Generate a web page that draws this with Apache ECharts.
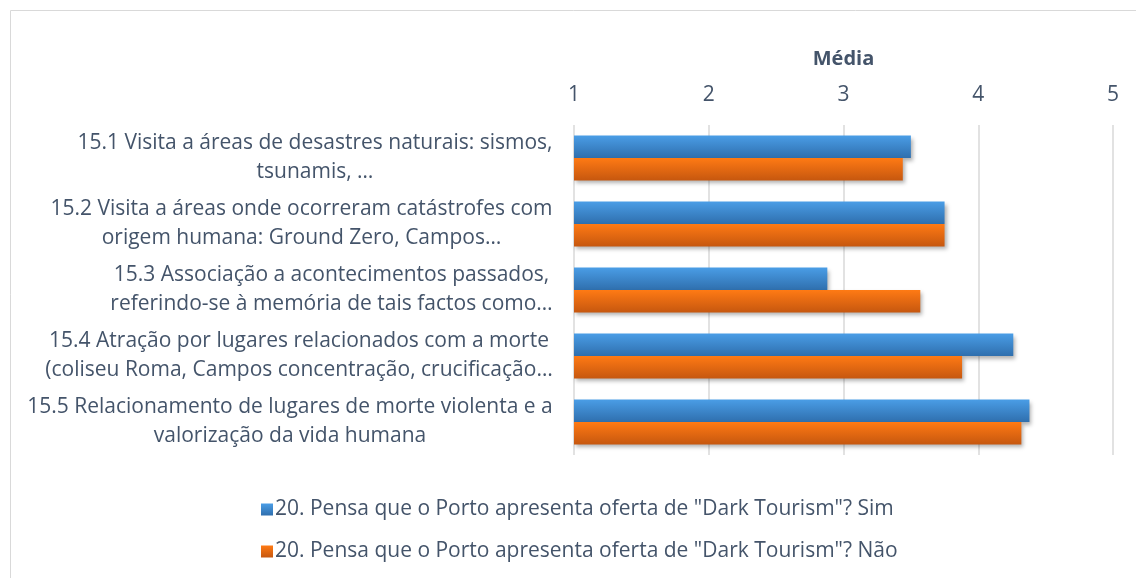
<!DOCTYPE html>
<html>
<head>
<meta charset="utf-8">
<script src="https://cdn.jsdelivr.net/npm/echarts@6/dist/echarts.min.js"></script>
<style>
  html, body { margin: 0; padding: 0; background: #fff; }
  #chart { width: 1136px; height: 578px; }
</style>
</head>
<body>
<div id="chart"></div>
<script>
const categories = [
  "15.1 Visita a áreas de desastres naturais: sismos,\ntsunamis, …",
  "15.2 Visita a áreas onde ocorreram catástrofes com\norigem humana: Ground Zero, Campos…",
  "15.3 Associação a acontecimentos passados,\nreferindo-se à memória de tais factos como…",
  "15.4 Atração por lugares relacionados com a morte\n(coliseu Roma, Campos concentração, crucificação…",
  "15.5 Relacionamento de lugares de morte violenta e a\nvalorização da vida humana"
];
const simValues = [3.50, 3.75, 2.88, 4.26, 4.38];
const naoValues = [3.44, 3.75, 3.57, 3.88, 4.32];
const seriesNames = [
  '20. Pensa que o Porto apresenta oferta de "Dark Tourism"? Sim',
  '20. Pensa que o Porto apresenta oferta de "Dark Tourism"? Não'
];

const textColor = "#44546a";
const font = "Open Sans";
const labelSize = 21;

function grad(top, bottom) {
  return new echarts.graphic.LinearGradient(0, 0, 0, 1, [
    { offset: 0, color: top },
    { offset: 1, color: bottom }
  ]);
}

// each category label: lines centred inside a box as wide as the longest line
const ctx = document.createElement("canvas").getContext("2d");
ctx.font = labelSize + "px '" + font + "'";
const rich = {};
categories.forEach((c, i) => {
  const w = Math.max(...c.split("\n").map(l => ctx.measureText(l).width));
  rich["c" + i] = {
    width: Math.ceil(w) + 2,
    align: "center",
    color: textColor,
    fontSize: labelSize,
    fontFamily: font,
    lineHeight: 29
  };
});

const chart = echarts.init(document.getElementById("chart"));

chart.setOption({
  animation: false,
  textStyle: { fontFamily: font },
  graphic: [{
    type: "rect",
    shape: { x: 10.5, y: 10.5, width: 1200, height: 700 },
    style: { fill: null, stroke: "#d9d9d9", lineWidth: 1 },
    silent: true
  }],
  grid: { left: 574, right: 23, top: 125, height: 330 },
  legend: {
    orient: "vertical",
    left: 256,
    top: 494,
    itemGap: 21,
    itemWidth: 12,
    itemHeight: 12,
    icon: "rect",
    textStyle: { color: textColor, fontSize: labelSize, fontFamily: font, padding: [0, 0, 0, -3] },
    data: seriesNames
  },
  xAxis: {
    type: "value",
    position: "top",
    min: 1,
    max: 5,
    interval: 1,
    name: "Média",
    nameLocation: "middle",
    nameGap: 56,
    nameTextStyle: { color: textColor, fontSize: 20, fontWeight: "bold", fontFamily: font },
    axisLine: { show: false },
    axisTick: { show: false },
    axisLabel: { color: textColor, fontSize: 21, margin: 19, fontFamily: font },
    splitLine: { lineStyle: { color: "#d9d9d9", width: 1.5 } }
  },
  yAxis: {
    type: "category",
    inverse: true,
    data: categories,
    axisLine: { show: false },
    axisTick: { show: false },
    axisLabel: {
      align: "right",
      margin: 20,
      formatter: (value, index) =>
        value.split("\n").map(l => "{c" + index + "|" + l + "}").join("\n"),
      rich: rich
    }
  },
  series: [
    {
      name: seriesNames[0],
      type: "bar",
      data: simValues,
      barCategoryGap: "32%",
      barGap: "0%",
      itemStyle: {
        color: grad("#4a9de6", "#2f6fae"),
        shadowBlur: 4,
        shadowOffsetX: 2,
        shadowOffsetY: 3,
        shadowColor: "rgba(0,0,0,0.3)"
      }
    },
    {
      name: seriesNames[1],
      type: "bar",
      data: naoValues,
      barCategoryGap: "32%",
      barGap: "0%",
      itemStyle: {
        color: grad("#ff7a14", "#c6570f"),
        shadowBlur: 4,
        shadowOffsetX: 2,
        shadowOffsetY: 3,
        shadowColor: "rgba(0,0,0,0.3)"
      }
    }
  ]
});
</script>
</body>
</html>
